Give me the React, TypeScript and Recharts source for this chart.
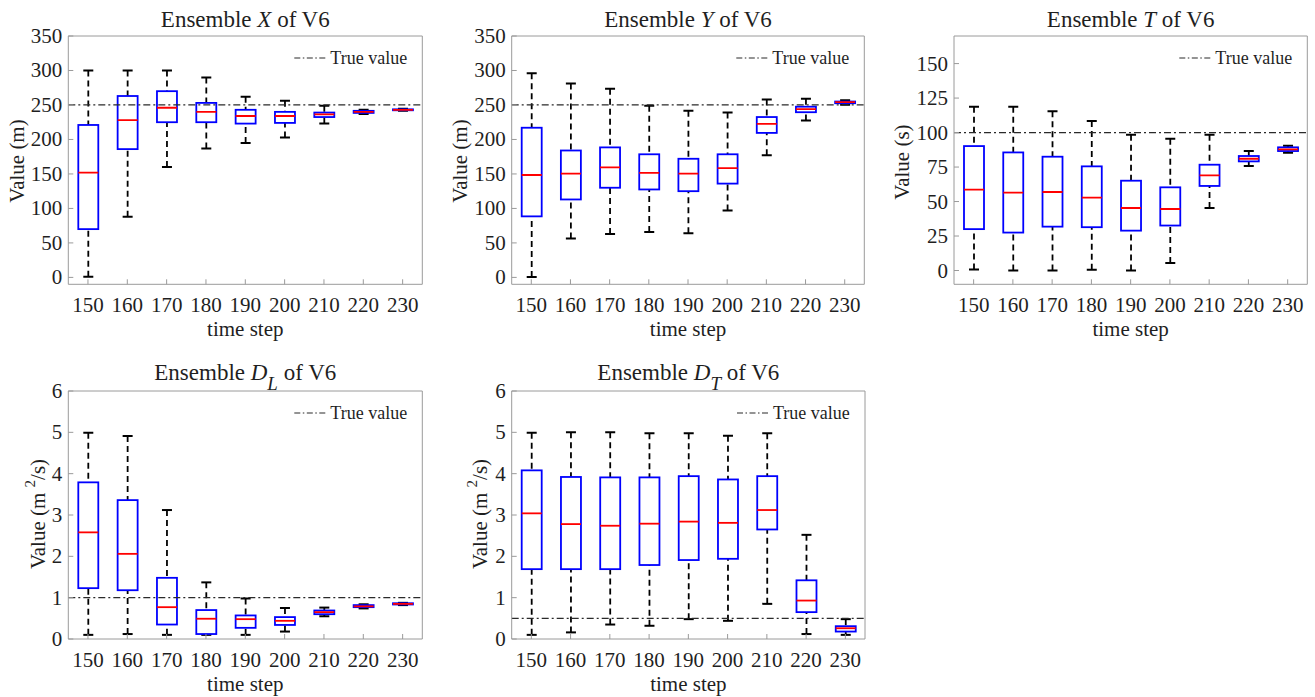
import React from 'react';
import { ComposedChart, Bar, XAxis, YAxis, ReferenceLine } from 'recharts';

// time steps on the horizontal axis
const STEPS = [150, 160, 170, 180, 190, 200, 210, 220, 230];

// box statistics per time step: [lower whisker, Q1, median, Q3, upper whisker]
const ensembleX: number[][] = [
  [1, 70, 152, 221, 300],
  [88, 186, 228, 263, 300],
  [160, 225, 246, 270, 300],
  [187, 225, 240, 253, 290],
  [195, 223, 234, 243, 262],
  [203, 224, 234, 240, 256],
  [223, 232.5, 236.5, 239, 249],
  [237, 238.5, 240, 241.5, 243],
  [241.5, 242.3, 243, 243.7, 244.5],
];

const ensembleY: number[][] = [
  [0.5, 88.5, 148.5, 217, 296],
  [56.5, 113, 150.5, 184, 281],
  [63, 130, 159.5, 188.5, 273.5],
  [66, 127.5, 151.5, 178.5, 249],
  [64, 125, 150.5, 172, 241.5],
  [97, 136, 158.5, 178.5, 239],
  [177, 209.5, 222.5, 232.5, 258],
  [227.5, 239.5, 244, 247.5, 259],
  [250.5, 252.5, 254, 255, 257],
];

const ensembleT: number[][] = [
  [0.7, 30, 58.6, 90.2, 118.7],
  [0, 27.5, 56.4, 85.6, 118.7],
  [0, 31.8, 56.9, 82.5, 115.5],
  [0.5, 31.4, 52.8, 75.5, 108.3],
  [0, 28.9, 45.3, 65.1, 98.4],
  [5.5, 32.6, 44.6, 60.3, 95.5],
  [45.3, 61.3, 69, 76.7, 98.4],
  [75.7, 79.1, 81, 83, 86.6],
  [85.4, 86.6, 87.8, 89.3, 90.4],
];

const ensembleDL: number[][] = [
  [0.1, 1.23, 2.58, 3.79, 4.99],
  [0.12, 1.18, 2.06, 3.36, 4.91],
  [0.1, 0.35, 0.77, 1.48, 3.12],
  [0.1, 0.12, 0.49, 0.7, 1.37],
  [0.1, 0.27, 0.48, 0.57, 0.98],
  [0.18, 0.34, 0.44, 0.53, 0.75],
  [0.55, 0.6, 0.65, 0.69, 0.76],
  [0.74, 0.77, 0.79, 0.82, 0.84],
  [0.82, 0.835, 0.85, 0.865, 0.875],
];

const ensembleDT: number[][] = [
  [0.1, 1.69, 3.04, 4.08, 4.99],
  [0.16, 1.69, 2.78, 3.92, 5],
  [0.35, 1.69, 2.74, 3.91, 5],
  [0.32, 1.79, 2.79, 3.91, 4.98],
  [0.48, 1.91, 2.84, 3.94, 4.98],
  [0.44, 1.94, 2.81, 3.86, 4.92],
  [0.85, 2.65, 3.12, 3.94, 4.98],
  [0.12, 0.65, 0.93, 1.42, 2.52],
  [0.1, 0.18, 0.26, 0.31, 0.48],
];

// reference ("true") values
const TRUE_X = 250;
const TRUE_Y = 250;
const TRUE_T = 100;
const TRUE_DL = 1;
const TRUE_DT = 0.5;

// y-axis ticks
const TICKS_M = [0, 50, 100, 150, 200, 250, 300, 350];
const TICKS_S = [0, 25, 50, 75, 100, 125, 150];
const TICKS_D = [0, 1, 2, 3, 4, 5, 6];

const W = 1315;
const H = 697;
const FONT = "'Liberation Serif', 'Times New Roman', Times, serif";
const TEXT = '#1f1f1f';
const FRAME = '#9a9a9a';

type Row = { step: number; lo: number; q1: number; med: number; q3: number; hi: number };

const toRows = (stats: number[][]): Row[] =>
  STEPS.map((step, i) => ({
    step,
    lo: stats[i][0],
    q1: stats[i][1],
    med: stats[i][2],
    q3: stats[i][3],
    hi: stats[i][4],
  }));

// Draws one box: the bar rectangle spans Q1..Q3, the rest is placed with the same scale.
function BoxShape(props: any) {
  const { x, y, width, height, payload } = props;
  if (payload == null || x == null || y == null) return null;
  const { lo, q1, med, q3, hi } = payload as Row;
  const top = Math.min(y, y + height);
  const h = Math.abs(height);
  const k = h / (q3 - q1);
  const py = (v: number) => top + (q3 - v) * k;
  const cx = x + width / 2;
  const cap = 5;
  const yHi = py(hi);
  const yLo = py(lo);
  const yMed = py(med);
  return (
    <g>
      <line x1={cx} x2={cx} y1={yHi} y2={top} stroke="#000" strokeWidth={1.8} strokeDasharray="6 4" />
      <line x1={cx} x2={cx} y1={yLo} y2={top + h} stroke="#000" strokeWidth={1.8} strokeDasharray="6 4" />
      <line x1={cx - cap} x2={cx + cap} y1={yHi} y2={yHi} stroke="#000" strokeWidth={2} />
      <line x1={cx - cap} x2={cx + cap} y1={yLo} y2={yLo} stroke="#000" strokeWidth={2} />
      <rect x={x} y={top} width={width} height={h} fill="none" stroke="#0000ff" strokeWidth={1.8} />
      <line x1={x} x2={x + width} y1={yMed} y2={yMed} stroke="#ff0000" strokeWidth={1.8} />
    </g>
  );
}

// tick label renderers with explicit font settings
const BottomTick = (p: any) => (
  <text x={p.x} y={p.y + 14.5} textAnchor="middle" fontSize={21} fill={TEXT} fontFamily={FONT}>
    {p.payload.value}
  </text>
);

const LeftTick = (p: any) => (
  <text x={p.x} y={p.y} textAnchor="end" dominantBaseline="central" fontSize={21} fill={TEXT} fontFamily={FONT}>
    {p.payload.value}
  </text>
);

type PanelProps = {
  stats: number[][];
  truth: number;
  domain: [number, number];
  ticks: number[];
  x0: number;
  x1: number;
  y0: number;
  y1: number;
};

function BoxPanel({ stats, truth, domain, ticks, x0, x1, y0, y1 }: PanelProps) {
  const rows = toRows(stats);
  return (
    <div style={{ position: 'absolute', left: 0, top: 0 }}>
      <ComposedChart width={W} height={H} data={rows} margin={{ top: 0, right: 0, bottom: 0, left: 0 }}>
        <XAxis
          dataKey="step"
          type="category"
          height={H - y1}
          interval={0}
          tick={BottomTick}
          tickSize={-5}
          tickMargin={18}
          axisLine={{ stroke: FRAME }}
          tickLine={{ stroke: FRAME }}
        />
        <XAxis
          xAxisId="top"
          dataKey="step"
          type="category"
          orientation="top"
          height={y0}
          interval={0}
          tick={false}
          tickSize={-5}
          axisLine={{ stroke: FRAME }}
          tickLine={{ stroke: FRAME }}
        />
        <YAxis
          type="number"
          width={x0}
          domain={domain}
          ticks={ticks}
          interval={0}
          allowDataOverflow
          tick={LeftTick}
          tickSize={-5}
          tickMargin={11}
          axisLine={{ stroke: FRAME }}
          tickLine={{ stroke: FRAME }}
        />
        <YAxis
          yAxisId="right"
          type="number"
          orientation="right"
          width={W - x1}
          domain={domain}
          ticks={ticks}
          interval={0}
          allowDataOverflow
          tick={false}
          tickSize={-5}
          axisLine={{ stroke: FRAME }}
          tickLine={{ stroke: FRAME }}
        />
        <Bar
          dataKey={(d: Row) => [d.q1, d.q3]}
          barSize={20}
          shape={BoxShape}
          isAnimationActive={false}
        />
        <ReferenceLine y={truth} stroke="#2a2a2a" strokeWidth={1.2} strokeDasharray="7 3 2 3" />
      </ComposedChart>
    </div>
  );
}

type Frame = { x0: number; x1: number; y0: number; y1: number };

function Legend({ f }: { f: Frame }) {
  const ty = f.y0 + 22;
  return (
    <g>
      <line x1={f.x1 - 128} x2={f.x1 - 96} y1={ty} y2={ty} stroke="#2a2a2a" strokeWidth={1.2} strokeDasharray="6 2.5 1.5 2.5" />
      <text x={f.x1 - 92} y={ty} dominantBaseline="central" fontSize={18} fill={TEXT} fontFamily={FONT}>
        True value
      </text>
    </g>
  );
}

function XLabel({ f, baseline }: { f: Frame; baseline: number }) {
  return (
    <text x={(f.x0 + f.x1) / 2} y={baseline} textAnchor="middle" fontSize={21} fill={TEXT} fontFamily={FONT}>
      time step
    </text>
  );
}

function YLabel({ cx, cy, unit }: { cx: number; cy: number; unit: 'm' | 's' | 'm2s' }) {
  return (
    <text
      x={cx}
      y={cy}
      transform={`rotate(-90 ${cx} ${cy})`}
      textAnchor="middle"
      dominantBaseline="central"
      fontSize={21}
      fill={TEXT}
      fontFamily={FONT}
    >
      {unit === 'm2s' ? (
        <>
          {'Value (m '}
          <tspan fontSize={15} dy={-8}>2</tspan>
          <tspan dy={8}>/s)</tspan>
        </>
      ) : (
        `Value (${unit})`
      )}
    </text>
  );
}

function Title({ f, baseline, sym, sub }: { f: Frame; baseline: number; sym: string; sub?: string }) {
  return (
    <text x={(f.x0 + f.x1) / 2} y={baseline} textAnchor="middle" fontSize={23} fill={TEXT} fontFamily={FONT}>
      {'Ensemble '}
      <tspan fontStyle="italic">{sym}</tspan>
      {sub ? (
        <>
          <tspan fontStyle="italic" fontSize={19} dy={10}>{sub}</tspan>
          <tspan dy={-10}>{' of V6'}</tspan>
        </>
      ) : (
        ' of V6'
      )}
    </text>
  );
}

const F1: Frame = { x0: 68.3, x1: 422.3, y0: 36, y1: 284.3 };
const F2: Frame = { x0: 511.7, x1: 864.3, y0: 36, y1: 284.3 };
const F3: Frame = { x0: 954, x1: 1307.3, y0: 36, y1: 284.3 };
const F4: Frame = { x0: 68.3, x1: 422.3, y0: 391, y1: 639 };
const F5: Frame = { x0: 511.7, x1: 865, y0: 391, y1: 639 };

export default function App() {
  return (
    <div style={{ position: 'absolute', left: 0, top: 0, width: W, height: H, background: '#fff', overflow: 'hidden' }}>
      <BoxPanel stats={ensembleX} truth={TRUE_X} domain={[-10, 350]} ticks={TICKS_M} {...F1} />
      <BoxPanel stats={ensembleY} truth={TRUE_Y} domain={[-10, 350]} ticks={TICKS_M} {...F2} />
      <BoxPanel stats={ensembleT} truth={TRUE_T} domain={[-10, 170]} ticks={TICKS_S} {...F3} />
      <BoxPanel stats={ensembleDL} truth={TRUE_DL} domain={[0, 6]} ticks={TICKS_D} {...F4} />
      <BoxPanel stats={ensembleDT} truth={TRUE_DT} domain={[0, 6]} ticks={TICKS_D} {...F5} />
      <svg width={W} height={H} style={{ position: 'absolute', left: 0, top: 0, pointerEvents: 'none' }}>
        <Title f={F1} baseline={27} sym="X" />
        <Title f={F2} baseline={27} sym="Y" />
        <Title f={F3} baseline={27} sym="T" />
        <Title f={F4} baseline={380} sym="D" sub="L" />
        <Title f={F5} baseline={380} sym="D" sub="T" />
        <Legend f={F1} />
        <Legend f={F2} />
        <Legend f={F3} />
        <Legend f={F4} />
        <Legend f={F5} />
        <XLabel f={F1} baseline={336} />
        <XLabel f={F2} baseline={336} />
        <XLabel f={F3} baseline={336} />
        <XLabel f={F4} baseline={691} />
        <XLabel f={F5} baseline={691} />
        <YLabel cx={17} cy={161} unit="m" />
        <YLabel cx={460} cy={161} unit="m" />
        <YLabel cx={902} cy={162} unit="s" />
        <YLabel cx={38} cy={514} unit="m2s" />
        <YLabel cx={480} cy={514} unit="m2s" />
      </svg>
    </div>
  );
}
